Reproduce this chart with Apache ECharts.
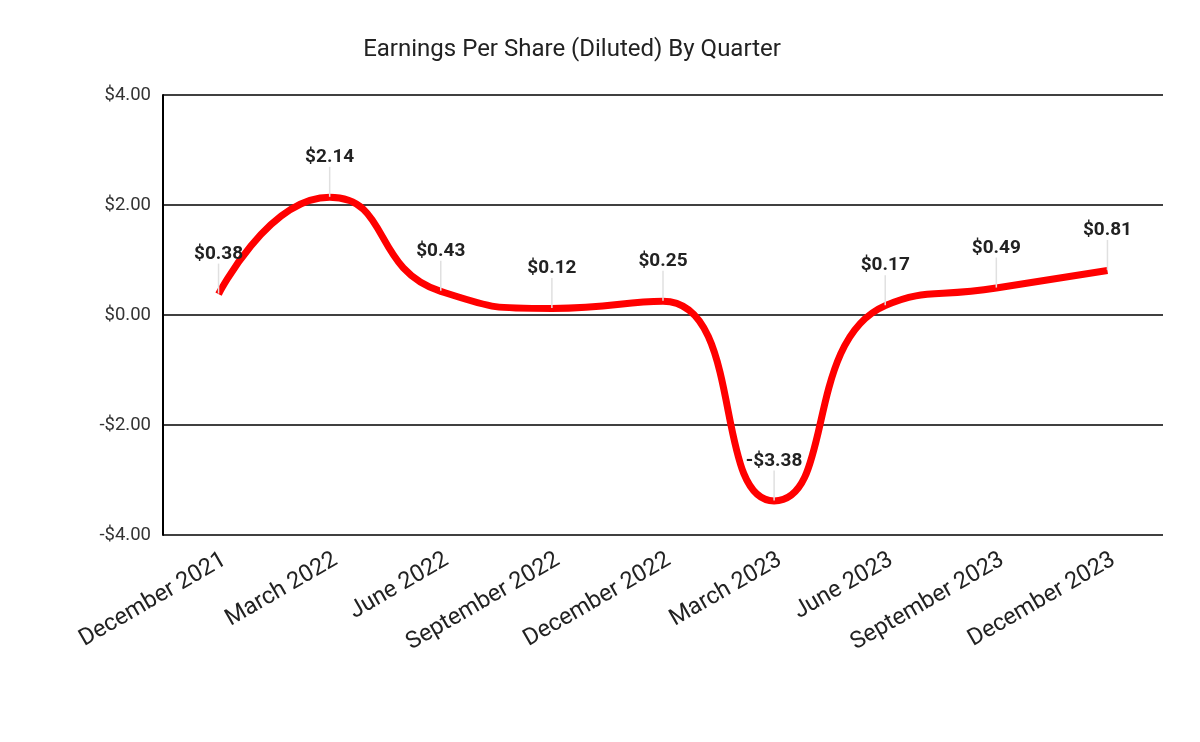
<!DOCTYPE html>
<html>
<head>
<meta charset="utf-8">
<script src="https://cdn.jsdelivr.net/npm/echarts@6/dist/echarts.min.js"></script>
<style>
  html, body { margin: 0; padding: 0; background: #fff; }
  #chart { width: 1200px; height: 742px; }
</style>
</head>
<body>
<div id="chart"></div>
<script>
// chart data
const quarters = [
  "December 2021", "March 2022", "June 2022", "September 2022", "December 2022",
  "March 2023", "June 2023", "September 2023", "December 2023"
]
const epsDiluted = [0.38, 2.14, 0.43, 0.12, 0.25, -3.38, 0.17, 0.49, 0.81]

const money = (v) => (v < 0 ? "-$" : "$") + Math.abs(v).toFixed(2)

const chart = echarts.init(document.getElementById("chart"))

const option = {
  animation: false,
  textStyle: { fontFamily: "Roboto" },
  title: {
    text: "Earnings Per Share (Diluted) By Quarter",
    left: 567,
    top: 33,
    textAlign: "center",
    textStyle: { fontSize: 24, fontWeight: "normal", color: "#222", fontFamily: "Roboto" },
  },
  grid: { left: 163, right: 37, top: 95, bottom: 207 },
  xAxis: {
    type: "category",
    data: quarters,
    boundaryGap: true,
    axisLine: { show: false },
    axisTick: { show: false },
    axisLabel: {
      interval: 0,
      rotate: 30,
      margin: 13,
      verticalAlign: "top",
      fontSize: 23.5,
      color: "#222",
    },
  },
  yAxis: {
    type: "value",
    min: -4,
    max: 4,
    interval: 2,
    axisLine: { show: true, lineStyle: { color: "#000", width: 2 } },
    axisTick: { show: false },
    axisLabel: { formatter: money, fontSize: 18.5, color: "#333", margin: 12 },
    splitLine: { lineStyle: { color: "#000", width: 1.5 } },
  },
  series: [
    {
      type: "line",
      data: epsDiluted,
      smooth: 0.55,
      symbol: "circle",
      symbolSize: 1,
      showSymbol: true,
      itemStyle: { color: "rgba(255,0,0,0)" },
      lineStyle: { color: "#ff0000", width: 7 },
      label: {
        show: true,
        position: "top",
        distance: 6,
        formatter: (p) => money(p.value),
        fontSize: 19,
        fontWeight: "bold",
        color: "#222",
      },
      labelLayout: { dy: -24 },
      labelLine: { show: true, lineStyle: { color: "#e0e0e0", width: 1.5 } },
    },
  ],
}

chart.setOption(option)
</script>
</body>
</html>
